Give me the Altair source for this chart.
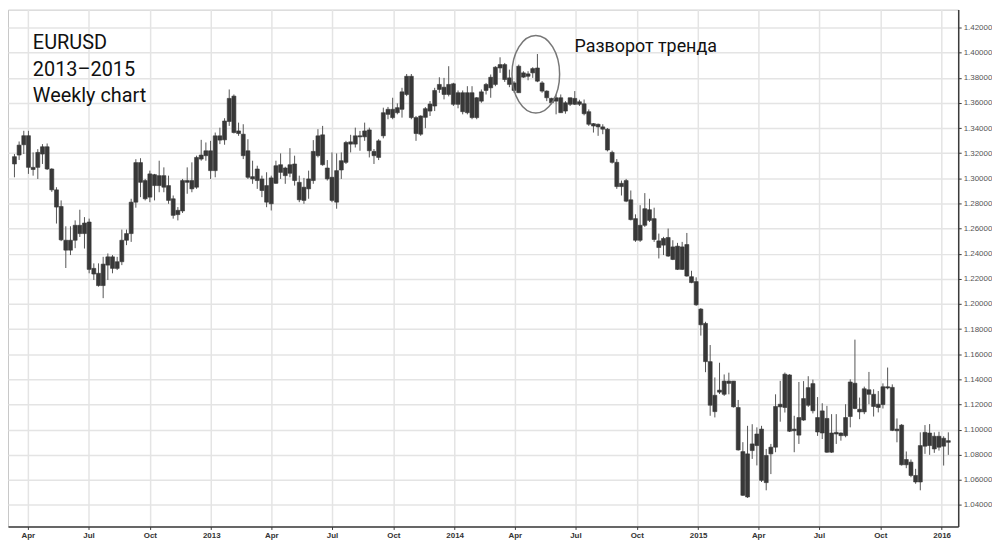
import altair as alt
import pandas as pd

# ---------------- data (weekly EURUSD candles) ----------------
first_week = "2012-03-12"

opens = [
    1.3114, 1.3185, 1.3267, 1.3339, 1.3087, 1.3087, 1.3193, 1.3251, 1.3074, 1.2908,
    1.2776, 1.2507, 1.2428, 1.2507, 1.2626, 1.2560, 1.2652, 1.2283, 1.2244, 1.2146,
    1.2309, 1.2375, 1.2283, 1.2336, 1.2507, 1.2560, 1.2810, 1.3125, 1.2982, 1.2850,
    1.3029, 1.2942, 1.3021, 1.2942, 1.2837, 1.2711, 1.2740, 1.2968, 1.2982, 1.2929,
    1.3153, 1.3180, 1.3219, 1.3061, 1.3338, 1.3306, 1.3452, 1.3654, 1.3356, 1.3351,
    1.3219, 1.3013, 1.2982, 1.2903, 1.2942, 1.2797, 1.2960, 1.3108, 1.3082, 1.3040,
    1.3114, 1.2968, 1.2824, 1.2916, 1.2982, 1.3180, 1.3346, 1.3082, 1.3008, 1.2810,
    1.3066, 1.3127, 1.3290, 1.3272, 1.3338, 1.3330, 1.3385, 1.3214, 1.3166, 1.3338,
    1.3509, 1.3483, 1.3522, 1.3549, 1.3667, 1.3812, 1.3483, 1.3351, 1.3485, 1.3535,
    1.3575, 1.3707, 1.3725, 1.3667, 1.3752, 1.3589, 1.3681, 1.3522, 1.3681, 1.3483,
    1.3614, 1.3699, 1.3720, 1.3747, 1.3878, 1.3905, 1.3799, 1.3759, 1.3681, 1.3839,
    1.3812, 1.3839, 1.3878, 1.3759, 1.3694, 1.3636, 1.3614, 1.3641, 1.3535, 1.3589,
    1.3636, 1.3589, 1.3593, 1.3530, 1.3435, 1.3430, 1.3409, 1.3391, 1.3206, 1.3127,
    1.2934, 1.2982, 1.2829, 1.2679, 1.2507, 1.2626, 1.2750, 1.2679, 1.2502, 1.2468,
    1.2529, 1.2354, 1.2460, 1.2275, 1.2473, 1.2217, 1.2178, 1.1959, 1.1845, 1.1541,
    1.1143, 1.1298, 1.1281, 1.1386, 1.1386, 1.1176, 1.0825, 1.0464, 1.0833, 1.0873,
    1.1004, 1.0578, 1.0807, 1.0860, 1.1181, 1.1176, 1.1435, 1.1004, 1.0956, 1.1076,
    1.1194, 1.1366, 1.0981, 1.0973, 1.1089, 1.0820, 1.0965, 1.0973, 1.0952, 1.1104,
    1.1369, 1.1162, 1.1141, 1.1317, 1.1281, 1.1176, 1.1199, 1.1341, 1.1336, 1.1004,
    1.1036, 1.0720, 1.0741, 1.0635, 1.0583, 1.0868, 1.0973, 1.0846, 1.0947, 1.0868,
    1.0912,
]
highs = [
    1.3193, 1.3293, 1.3378, 1.3378, 1.3206, 1.3232, 1.3272, 1.3277, 1.3080, 1.2929,
    1.2824, 1.2618, 1.2618, 1.2665, 1.2750, 1.2691, 1.2679, 1.2323, 1.2323, 1.2375,
    1.2402, 1.2389, 1.2375, 1.2592, 1.2592, 1.2837, 1.3152, 1.3160, 1.2995, 1.3061,
    1.3035, 1.3140, 1.3087, 1.3021, 1.2863, 1.2771, 1.2995, 1.3087, 1.3127, 1.3180,
    1.3306, 1.3285, 1.3298, 1.3364, 1.3403, 1.3478, 1.3707, 1.3667, 1.3443, 1.3430,
    1.3311, 1.3140, 1.3100, 1.3021, 1.3048, 1.3021, 1.3140, 1.3198, 1.3092, 1.3240,
    1.3180, 1.3021, 1.3003, 1.3061, 1.3304, 1.3391, 1.3417, 1.3145, 1.3206, 1.3198,
    1.3206, 1.3298, 1.3346, 1.3403, 1.3377, 1.3443, 1.3403, 1.3233, 1.3311, 1.3562,
    1.3568, 1.3641, 1.3596, 1.3720, 1.3830, 1.3830, 1.3496, 1.3501, 1.3567, 1.3615,
    1.3720, 1.3804, 1.3799, 1.3892, 1.3760, 1.3699, 1.3699, 1.3733, 1.3733, 1.3646,
    1.3707, 1.3759, 1.3826, 1.3892, 1.3963, 1.3918, 1.3865, 1.3773, 1.3905, 1.3852,
    1.3852, 1.3884, 1.3989, 1.3773, 1.3700, 1.3641, 1.3667, 1.3667, 1.3614, 1.3641,
    1.3694, 1.3625, 1.3627, 1.3548, 1.3440, 1.3435, 1.3430, 1.3400, 1.3220, 1.3153,
    1.2982, 1.2995, 1.2903, 1.2713, 1.2786, 1.2882, 1.2837, 1.2766, 1.2560, 1.2534,
    1.2600, 1.2507, 1.2486, 1.2494, 1.2565, 1.2264, 1.2212, 1.1967, 1.1858, 1.1673,
    1.1415, 1.1532, 1.1439, 1.1453, 1.1386, 1.1236, 1.0900, 1.1030, 1.1043, 1.1018,
    1.1030, 1.0846, 1.0886, 1.1281, 1.1388, 1.1454, 1.1441, 1.1110, 1.1379, 1.1386,
    1.1425, 1.1398, 1.1259, 1.1210, 1.1189, 1.1123, 1.1123, 1.0978, 1.1202, 1.1400,
    1.1716, 1.1255, 1.1342, 1.1459, 1.1321, 1.1307, 1.1368, 1.1494, 1.1360, 1.1089,
    1.1044, 1.0826, 1.0762, 1.0688, 1.0978, 1.1036, 1.1044, 1.0978, 1.0983, 1.0947,
    1.0978,
]
lows = [
    1.3008, 1.3146, 1.3193, 1.3035, 1.3021, 1.2995, 1.3114, 1.3066, 1.2892, 1.2640,
    1.2500, 1.2286, 1.2389, 1.2444, 1.2533, 1.2441, 1.2244, 1.2191, 1.2138, 1.2046,
    1.2191, 1.2244, 1.2270, 1.2309, 1.2468, 1.2494, 1.2766, 1.2850, 1.2824, 1.2810,
    1.2824, 1.2889, 1.2889, 1.2797, 1.2679, 1.2665, 1.2724, 1.2877, 1.2889, 1.2916,
    1.3140, 1.3140, 1.2995, 1.3008, 1.3272, 1.3267, 1.3417, 1.3357, 1.3338, 1.3153,
    1.2995, 1.2956, 1.2916, 1.2850, 1.2770, 1.2744, 1.2956, 1.2995, 1.2956, 1.3008,
    1.2942, 1.2810, 1.2797, 1.2837, 1.2956, 1.3166, 1.3100, 1.2982, 1.2810, 1.2758,
    1.2995, 1.3114, 1.3206, 1.3245, 1.3219, 1.3298, 1.3166, 1.3114, 1.3145, 1.3318,
    1.3470, 1.3470, 1.3509, 1.3483, 1.3654, 1.3470, 1.3298, 1.3338, 1.3399, 1.3496,
    1.3535, 1.3680, 1.3628, 1.3652, 1.3575, 1.3557, 1.3509, 1.3509, 1.3470, 1.3470,
    1.3601, 1.3667, 1.3641, 1.3733, 1.3839, 1.3767, 1.3725, 1.3681, 1.3681, 1.3799,
    1.3780, 1.3799, 1.3765, 1.3681, 1.3614, 1.3588, 1.3509, 1.3522, 1.3514, 1.3575,
    1.3583, 1.3575, 1.3501, 1.3417, 1.3364, 1.3338, 1.3351, 1.3214, 1.3117, 1.2916,
    1.2863, 1.2810, 1.2665, 1.2494, 1.2494, 1.2613, 1.2652, 1.2494, 1.2362, 1.2389,
    1.2375, 1.2349, 1.2270, 1.2270, 1.2217, 1.2165, 1.1985, 1.1748, 1.1457, 1.1110,
    1.1097, 1.1283, 1.1268, 1.1281, 1.1176, 1.0833, 1.0472, 1.0456, 1.0767, 1.0715,
    1.0583, 1.0517, 1.0646, 1.0820, 1.1063, 1.1136, 1.0981, 1.0820, 1.0886, 1.1070,
    1.1181, 1.1129, 1.0950, 1.0925, 1.0815, 1.0815, 1.0886, 1.0912, 1.0939, 1.1018,
    1.1162, 1.1083, 1.1123, 1.1202, 1.1104, 1.1137, 1.1168, 1.1320, 1.0988, 1.0899,
    1.0714, 1.0693, 1.0621, 1.0569, 1.0517, 1.0807, 1.0799, 1.0815, 1.0833, 1.0714,
    1.0799,
]
closes = [
    1.3172, 1.3264, 1.3339, 1.3087, 1.3070, 1.3206, 1.3251, 1.3074, 1.2908, 1.2771,
    1.2510, 1.2428, 1.2507, 1.2626, 1.2560, 1.2644, 1.2275, 1.2238, 1.2146, 1.2317,
    1.2375, 1.2283, 1.2336, 1.2507, 1.2560, 1.2810, 1.3125, 1.2968, 1.2837, 1.3035,
    1.2942, 1.3021, 1.2929, 1.2824, 1.2705, 1.2745, 1.2982, 1.2982, 1.2916, 1.3166,
    1.3185, 1.3219, 1.3061, 1.3338, 1.3304, 1.3456, 1.3636, 1.3364, 1.3377, 1.3180,
    1.3008, 1.2995, 1.3074, 1.2995, 1.2810, 1.3003, 1.3100, 1.3047, 1.3021, 1.3108,
    1.2982, 1.2829, 1.2929, 1.2995, 1.3214, 1.3338, 1.3108, 1.2995, 1.2824, 1.3061,
    1.3140, 1.3285, 1.3272, 1.3338, 1.3330, 1.3377, 1.3219, 1.3180, 1.3298, 1.3522,
    1.3549, 1.3549, 1.3562, 1.3688, 1.3812, 1.3483, 1.3356, 1.3496, 1.3554, 1.3591,
    1.3699, 1.3747, 1.3667, 1.3747, 1.3589, 1.3681, 1.3530, 1.3681, 1.3483, 1.3641,
    1.3688, 1.3747, 1.3804, 1.3884, 1.3905, 1.3786, 1.3747, 1.3699, 1.3892, 1.3805,
    1.3831, 1.3873, 1.3773, 1.3694, 1.3641, 1.3601, 1.3641, 1.3522, 1.3601, 1.3641,
    1.3589, 1.3609, 1.3514, 1.3430, 1.3416, 1.3409, 1.3391, 1.3225, 1.3127, 1.2934,
    1.2960, 1.2818, 1.2671, 1.2507, 1.2626, 1.2758, 1.2665, 1.2513, 1.2449, 1.2521,
    1.2381, 1.2454, 1.2275, 1.2454, 1.2222, 1.2170, 1.1993, 1.1834, 1.1541, 1.1194,
    1.1273, 1.1314, 1.1386, 1.1368, 1.1181, 1.0838, 1.0477, 1.0807, 1.0886, 1.0965,
    1.0596, 1.0794, 1.0860, 1.1184, 1.1202, 1.1441, 1.0987, 1.0991, 1.1096, 1.1247,
    1.1334, 1.1150, 1.1096, 1.1149, 1.0820, 1.0973, 1.0978, 1.0952, 1.1096, 1.1379,
    1.1168, 1.1141, 1.1325, 1.1281, 1.1184, 1.1202, 1.1341, 1.1331, 1.0994, 1.0991,
    1.0720, 1.0762, 1.0635, 1.0583, 1.0873, 1.0978, 1.0873, 1.0947, 1.0860, 1.0931,
    1.0899,
]

price_ticks = [1.04, 1.06, 1.08, 1.10, 1.12, 1.14, 1.16, 1.18, 1.20, 1.22,
               1.24, 1.26, 1.28, 1.30, 1.32, 1.34, 1.36, 1.38, 1.40, 1.42]

title_lines = ["EURUSD", "2013–2015", "Weekly chart"]
note_text = "Разворот тренда"

# ---------------- table ----------------
weeks = pd.date_range(first_week, periods=len(opens), freq="7D").strftime("%Y-%m-%d")
df = pd.DataFrame({"date": weeks, "open": opens, "high": highs,
                   "low": lows, "close": closes})

FONT = "Roboto"
GRID = "#e4e4e4"
AXIS = "#3c3c3c"

xscale = alt.Scale(
    type="utc",
    domain=[alt.DateTime(year=2012, month=3, date=9, hours=19, utc=True),
            alt.DateTime(year=2016, month=1, date=18, hours=9, utc=True)],
)
yscale = alt.Scale(domain=[1.02292, 1.43424], zero=False, nice=False)

xaxis = alt.Axis(
    title=None,
    tickCount={"interval": "month", "step": 3},
    labelExpr="utcFormat(datum.value, '%m') == '01' ? utcFormat(datum.value, '%Y') : utcFormat(datum.value, '%b')",
    labelFont="Liberation Sans", labelFontSize=8, labelFontWeight="bold",
    labelColor="#333", labelPadding=2, labelFlush=False, labelOverlap=False,
    tickSize=3, tickColor=AXIS, domainColor=AXIS, domainWidth=1.5,
    grid=True, gridColor=GRID, gridWidth=1.5,
)
yaxis = alt.Axis(
    title=None, orient="right", values=price_ticks, format=".5f",
    labelFont="Liberation Sans", labelFontSize=8, labelColor="#555",
    labelPadding=2, tickSize=3, tickColor=AXIS, domainColor=AXIS,
    domainWidth=1.5, grid=True, gridColor=GRID, gridWidth=1.5,
)

base = alt.Chart(df)

wicks = base.mark_rule(color="#555555", strokeWidth=1).encode(
    x=alt.X("date:T", scale=xscale, axis=xaxis),
    y=alt.Y("low:Q", scale=yscale, axis=yaxis),
    y2="high:Q",
)

bodies = base.transform_calculate(
    body_lo="min(datum.open, datum.close)",
    body_hi="max(datum.open, datum.close)",
).mark_bar(size=4, color="#383838", stroke="#383838", strokeWidth=0.6).encode(
    x=alt.X("date:T", scale=xscale, axis=xaxis),
    y=alt.Y("body_lo:Q", scale=yscale, axis=yaxis),
    y2="body_hi:Q",
)

title_txt = alt.Chart(pd.DataFrame({"label": ["\n".join(title_lines)]})).mark_text(
    align="left", baseline="alphabetic", lineBreak="\n", lineHeight=26.5,
    fontSize=20, font=FONT, color="#111111",
).encode(x=alt.value(25), y=alt.value(40), text="label:N")

note_txt = alt.Chart(pd.DataFrame({"label": [note_text]})).mark_text(
    align="left", baseline="alphabetic", fontSize=18, font=FONT, color="#111111",
).encode(x=alt.value(570), y=alt.value(43), text="label:N")

ELLIPSE = "M -0.615 0 A 0.615 1 0 1 0 0.615 0 A 0.615 1 0 1 0 -0.615 0 Z"
ring = alt.Chart(pd.DataFrame({"k": [0]})).mark_point(
    shape=ELLIPSE, size=6084, filled=False, stroke="#777777",
    strokeWidth=1.5, opacity=1,
).encode(x=alt.value(531), y=alt.value(65))

chart = alt.layer(wicks, bodies, ring, title_txt, note_txt).properties(
    width=956, height=520, padding=0, background="white",
).configure_view(stroke="#c8c8c8", strokeWidth=1)

chart.save("out.html", embed_options={"renderer": "svg", "actions": False})
